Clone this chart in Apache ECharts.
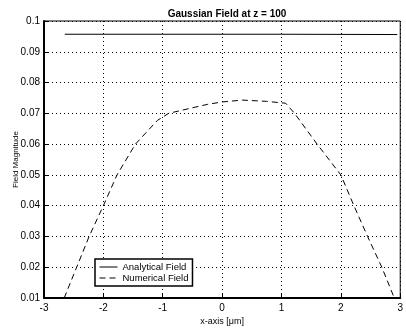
<!DOCTYPE html>
<html><head><meta charset="utf-8">
<script src="https://cdn.jsdelivr.net/npm/echarts@6/dist/echarts.min.js"></script>
<style>html,body{margin:0;padding:0;background:#fff}#c{width:406px;height:331px}</style>
</head><body><div id="c"></div>
<script>
var titleText = 'Gaussian Field at z = 100';
var xTicks = [-3, -2, -1, 0, 1, 2, 3];
var yTicks = [0.01, 0.02, 0.03, 0.04, 0.05, 0.06, 0.07, 0.08, 0.09, 0.1];
var analyticalX = [-2.65, -1, 0, 1, 2.95];
var analyticalY = [0.0957, 0.0957, 0.0957, 0.0957, 0.0956];
var numericalX = [-2.66, -2.45, -2.24, -2.0, -1.77, -1.46, -1.09, -0.9, -0.5, -0.25, 0, 0.34, 0.75, 1.0, 1.07, 1.22, 1.6, 2.0, 2.22, 2.45, 2.69, 2.90];
var numericalY = [0.01, 0.02, 0.03, 0.04, 0.05, 0.06, 0.0677, 0.070, 0.0718, 0.0729, 0.0737, 0.0743, 0.0739, 0.0734, 0.0733, 0.070, 0.060, 0.050, 0.040, 0.030, 0.020, 0.010];

function pairs(xs, ys){ return xs.map(function(x,i){ return [x, ys[i]]; }); }

var font = 'Liberation Sans, Arial, sans-serif';
var chart = echarts.init(document.getElementById('c'));
chart.setOption({
  animation: false,
  backgroundColor: '#fff',
  title: {
    text: titleText, left: 222, top: 4, textAlign: 'center',
    textStyle: {fontFamily: font, fontSize: 10, fontWeight: 'bold', color: '#000'}
  },
  grid: {left: 44, right: 5, top: 21, bottom: 29, show: true, borderColor: '#000', borderWidth: 1},
  legend: {
    orient: 'vertical', left: 95, top: 259, itemWidth: 18, itemHeight: 8, itemGap: 1,
    padding: [3, 4, 3, 4], backgroundColor: '#fff', borderColor: '#000', borderWidth: 1.5,
    itemStyle: {opacity: 0},
    lineStyle: {width: 1},
    textStyle: {fontFamily: font, fontSize: 9.5, color: '#000'},
    data: ['Analytical Field', 'Numerical Field']
  },
  xAxis: {
    type: 'value', min: xTicks[0], max: xTicks[xTicks.length-1], interval: 1,
    name: 'x-axis [\u03bcm]', nameLocation: 'middle', nameGap: 19, nameMoveOverlap: false,
    nameTextStyle: {fontFamily: font, fontSize: 9, color: '#000'},
    axisLine: {show: true, onZero: false, lineStyle: {color: '#000', width: 2}},
    axisTick: {show: true, inside: true, length: 4, lineStyle: {color: '#000'}},
    axisLabel: {fontFamily: font, fontSize: 10, color: '#000', margin: 5},
    splitLine: {show: true, lineStyle: {color: '#000', width: 1, type: [1, 3]}}
  },
  yAxis: {
    type: 'value', min: yTicks[0], max: yTicks[yTicks.length-1], interval: 0.01,
    name: 'Field Magnitude', nameLocation: 'middle', nameGap: 24, nameMoveOverlap: false,
    nameTextStyle: {fontFamily: font, fontSize: 8, color: '#000'},
    axisLine: {show: true, onZero: false, lineStyle: {color: '#000', width: 2}},
    axisTick: {show: true, inside: true, length: 4, lineStyle: {color: '#000'}},
    axisLabel: {fontFamily: font, fontSize: 10, color: '#000', margin: 4,
      formatter: function(v){ return String(+v.toFixed(2)); }},
    splitLine: {show: true, lineStyle: {color: '#000', width: 1, type: [1, 3]}}
  },
  series: [
    {name: 'Analytical Field', type: 'line', symbol: 'none', data: pairs(analyticalX, analyticalY),
     lineStyle: {color: '#000', width: 1}, itemStyle: {color: '#000'}},
    {name: 'Numerical Field', type: 'line', symbol: 'none', data: pairs(numericalX, numericalY),
     lineStyle: {color: '#000', width: 1, type: [6, 4]}, itemStyle: {color: '#000'}}
  ]
});
</script></body></html>
